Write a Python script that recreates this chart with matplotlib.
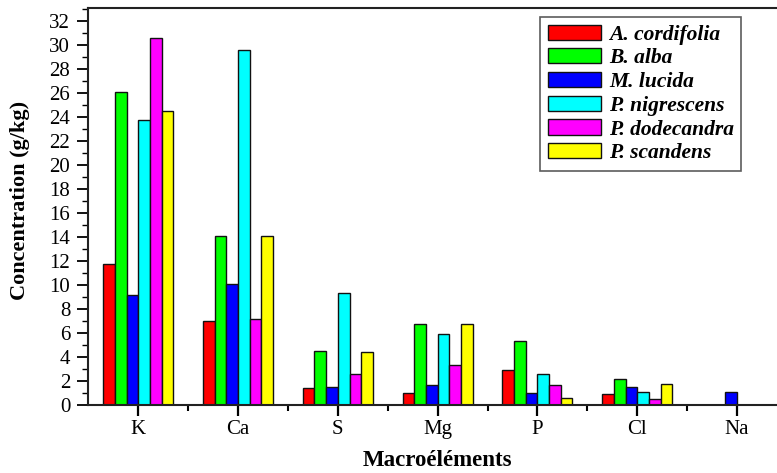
import matplotlib
matplotlib.use("Agg")
import matplotlib.pyplot as plt
import numpy as np
from matplotlib.ticker import MultipleLocator

categories = ["K", "Ca", "S", "Mg", "P", "Cl", "Na"]
species = ["A. cordifolia", "B. alba", "M. lucida", "P. nigrescens", "P. dodecandra", "P. scandens"]
a_cordifolia = [11.75, 7.0, 1.4, 1.03, 2.89, 0.89, 0.0]
b_alba = [26.1, 14.05, 4.47, 6.72, 5.33, 2.17, 0.0]
m_lucida = [9.17, 10.05, 1.5, 1.69, 0.97, 1.47, 1.11]
p_nigrescens = [23.75, 29.55, 9.33, 5.92, 2.61, 1.11, 0.0]
p_dodecandra = [30.6, 7.2, 2.58, 3.33, 1.67, 0.5, 0.0]
p_scandens = [24.47, 14.05, 4.42, 6.72, 0.56, 1.72, 0.0]
series = [a_cordifolia, b_alba, m_lucida, p_nigrescens, p_dodecandra, p_scandens]
colors = ["#ff0000", "#00ff00", "#0000ff", "#00ffff", "#ff00ff", "#ffff00"]

plt.rcParams['font.family'] = ['Liberation Serif', 'DejaVu Serif']

fig = plt.figure(figsize=(7.77, 4.73), dpi=100)
W, H = 777, 473
left, right, top, bottom = 88.3, 787, 7.5, 405
ax = fig.add_axes([left / W, 1 - bottom / H, (right - left) / W, (bottom - top) / H])

x = np.arange(len(categories))
bw = 0.117
n = len(series)
for i, (vals, c, name) in enumerate(zip(series, colors, species)):
    offs = (i - (n - 1) / 2) * bw
    ax.bar(x + offs, vals, width=bw, color=c, edgecolor="#111111", linewidth=1.0, label=name)

ax.set_xlim(-0.5, 6.5)
ax.set_ylim(0, (bottom - top) / 12.0)
ax.set_xticks(x)
ax.set_xticklabels(categories, fontsize=15)
ax.set_xticks(x + 0.5, minor=True)
ax.set_yticks(np.arange(0, 33, 2))
ax.set_yticklabels([str(v) for v in range(0, 33, 2)], fontsize=15)
ax.yaxis.set_minor_locator(MultipleLocator(1))
ax.tick_params(axis='y', which='major', direction='out', length=8, width=1.3, pad=5)
ax.tick_params(axis='y', which='minor', direction='out', length=4, width=1.0)
ax.tick_params(axis='x', which='major', direction='out', length=8, width=1.6, pad=3)
ax.tick_params(axis='x', which='minor', direction='out', length=4, width=1.5)
for s in ax.spines.values():
    s.set_linewidth(1.5)
    s.set_color("#222222")

fig.text(20 / W, 1 - 200 / H, "Concentration (g/kg)", rotation=90, fontsize=16,
         fontweight='bold', ha='center', va='center')
fig.text(437 / W, 1 - 460 / H, "Macroéléments", fontsize=16.5, fontweight='bold',
         ha='center', va='center')

leg = ax.legend(loc='upper left', bbox_to_anchor=((540 - left) / (right - left), 1 - (17 - top) / (bottom - top)),
                prop={'style': 'italic', 'weight': 'bold', 'size': 15.5},
                frameon=True, fancybox=False, edgecolor="#333333",
                handlelength=2.5, handleheight=0.7, labelspacing=0.17,
                borderpad=0.35, handletextpad=0.35, borderaxespad=0)
leg.get_frame().set_linewidth(1.2)

fig.savefig("out.png", dpi=100)
